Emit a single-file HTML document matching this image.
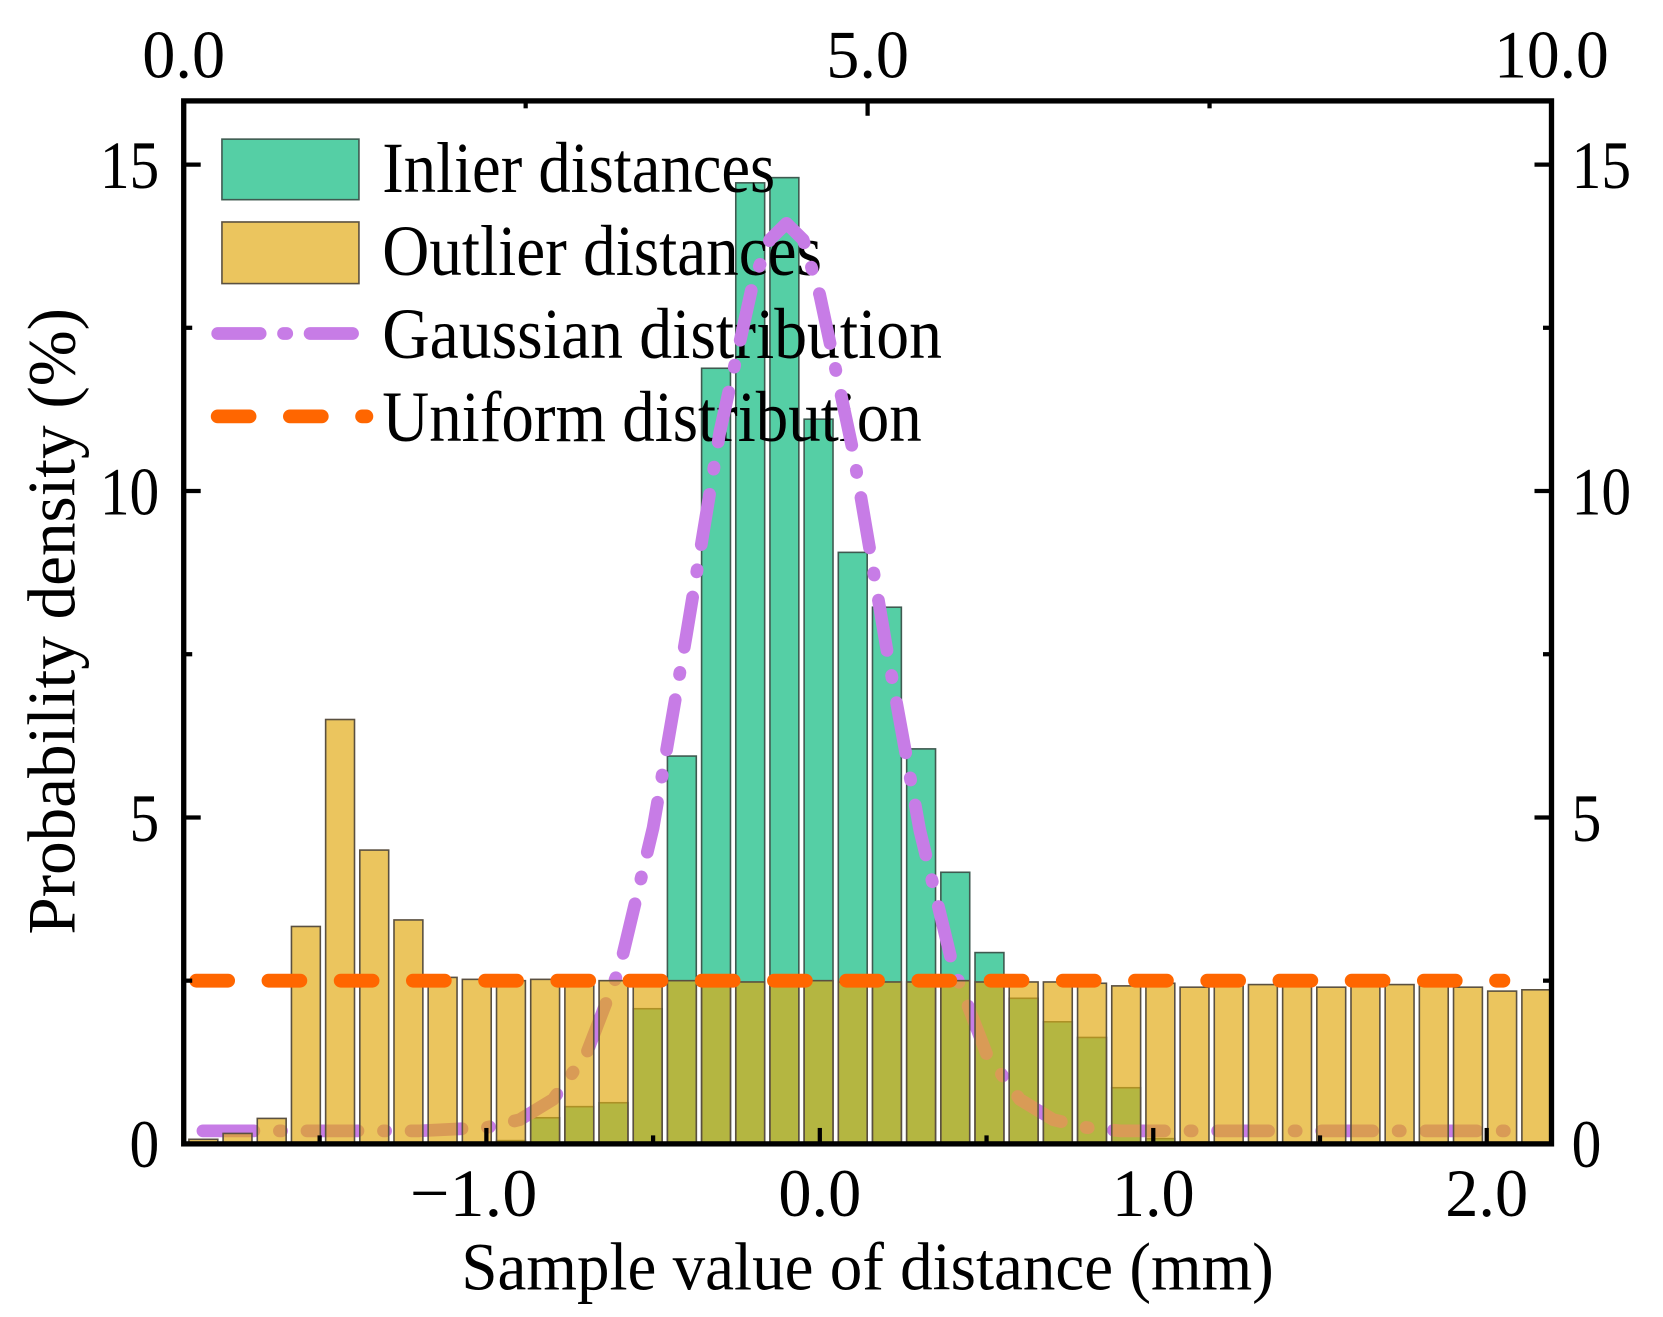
<!DOCTYPE html>
<html><head><meta charset="utf-8"><style>
html,body{margin:0;padding:0;background:#fff;}
svg{display:block;}
text{font-family:"Liberation Serif",serif;fill:#000;}
</style></head><body>
<svg id="chart" width="1663" height="1317" viewBox="0 0 1566 1240" preserveAspectRatio="none" xmlns="http://www.w3.org/2000/svg">
<g id="bars"></g>
<g id="legendText"></g>
<g id="gaussLayer"></g>
<g id="overlay"></g>
<g id="axes"></g>
</svg>
<script>
const binStart = -1.9;
const binWidth = 0.1025;
const inlierValues = [0,0,0,0,0,0,0,0,0,0.05,0.4,0.57,0.63,2.07,5.94,11.88,14.72,14.8,11.1,9.06,8.22,6.05,4.16,2.93,2.23,1.87,1.63,0.86,0.08,0.03,0.03,0,0,0,0,0,0,0,0,0];
const outlierValues = [0.07,0.16,0.39,3.33,6.5,4.5,3.43,2.55,2.52,2.5,2.52,2.48,2.5,2.48,2.5,2.5,2.48,2.46,2.5,2.48,2.48,2.48,2.5,2.48,2.48,2.48,2.46,2.42,2.46,2.4,2.42,2.44,2.44,2.4,2.42,2.44,2.42,2.4,2.34,2.36];
const gaussX = [-1.85,-1.5,-1.2,-1.0,-0.9,-0.8,-0.7,-0.6,-0.5,-0.4,-0.3,-0.2,-0.15,-0.1,-0.05,0.0,0.1,0.2,0.3,0.4,0.5,0.6,0.7,0.8,0.9,1.2,1.6,2.0,2.1];
const gaussY = [0.2,0.2,0.2,0.25,0.37,0.68,1.38,2.7,4.84,7.8,10.9,13.2,13.85,14.1,13.85,13.0,10.6,7.6,4.8,2.7,1.38,0.68,0.37,0.25,0.2,0.2,0.2,0.2,0.2];
const uniformValue = 2.5;
const uniformRange = [-1.87, 2.05];
const yTicks = [0,5,10,15];
const xTicks = [-1.0,0.0,1.0,2.0];
const xTickLabels = ["\u22121.0","0.0","1.0","2.0"];
const topTicks = [0,5,10];
const topTickLabels = ["0.0","5.0","10.0"];

const L=173,R=1461,T=95,B=1077;
const xScale = v => 772 + v*314;
const yScale = v => B - v*61.47;
const topScale = v => L + v*(R-L)/10;
const NS="http://www.w3.org/2000/svg";
function mk(parent,tag,attrs,txt){const e=document.createElementNS(NS,tag);for(const k in attrs)e.setAttribute(k,attrs[k]);if(txt!==undefined)e.textContent=txt;parent.appendChild(e);return e;}
const bars=document.getElementById('bars'),ov=document.getElementById('overlay'),ax=document.getElementById('axes'),gl=document.getElementById('gaussLayer'),lt=document.getElementById('legendText');
const GDASH='48 24 2 24';

inlierValues.forEach((v,i)=>{
  if(v<=0) return;
  const x0=xScale(binStart+i*binWidth)+2.5, x1=xScale(binStart+(i+1)*binWidth)-2.5;
  const r=mk(bars,'rect',{x:x0,y:yScale(v),width:x1-x0,height:B-yScale(v),fill:'#55cfa5',stroke:'#3f5a50','stroke-width':1.5});
  
  
});
let d='';gaussX.forEach((x,i)=>{d+=(i?'L':'M')+xScale(x)+','+yScale(gaussY[i]);});
const gp=mk(gl,'path',{d:d,fill:'none',stroke:'#c77ce6','stroke-width':12,'stroke-linecap':'round','stroke-linejoin':'round','stroke-dasharray':GDASH});


outlierValues.forEach((v,i)=>{
  const x0=xScale(binStart+i*binWidth)+2.5, x1=xScale(binStart+(i+1)*binWidth)-2.5;
  const r=mk(ov,'rect',{x:x0,y:yScale(v),width:x1-x0,height:B-yScale(v),fill:'rgb(225,169,17)','fill-opacity':0.68,stroke:'#5a5040','stroke-width':1.5});
  
  
});
const ul=mk(ov,'line',{x1:xScale(uniformRange[0]),x2:xScale(uniformRange[1]),y1:yScale(uniformValue),y2:yScale(uniformValue),stroke:'#ff6600','stroke-width':13,'stroke-linecap':'round','stroke-dasharray':'30 38'});



const fr=mk(ax,'rect',{x:L,y:T,width:R-L,height:B-T,fill:'none',stroke:'#000','stroke-width':5});


yTicks.forEach(v=>{
  const y=yScale(v);
  mk(ax,'line',{x1:L,x2:L+16,y1:y,y2:y,stroke:'#000','stroke-width':4});
  mk(ax,'line',{x1:R,x2:R-16,y1:y,y2:y,stroke:'#000','stroke-width':4});
  const s=String(v);
  const t1=mk(ax,'text',{x:150,y:y+22,'font-size':64,'text-anchor':'end',textLength:s.length*28,lengthAdjust:'spacingAndGlyphs'},s);
  
  
  const t2=mk(ax,'text',{x:1480,y:y+22,'font-size':64,'text-anchor':'start',textLength:s.length*28,lengthAdjust:'spacingAndGlyphs'},s);
  
  
});
[2.5,7.5,12.5].forEach(v=>{const y=yScale(v);
  mk(ax,'line',{x1:L,x2:L+8,y1:y,y2:y,stroke:'#000','stroke-width':4});
  mk(ax,'line',{x1:R,x2:R-8,y1:y,y2:y,stroke:'#000','stroke-width':4});});
xTicks.forEach((v,i)=>{
  const x=xScale(v);
  mk(ax,'line',{x1:x,x2:x,y1:B,y2:B-15,stroke:'#000','stroke-width':4});
  const s=xTickLabels[i];
  const t=mk(ax,'text',{x:x-(i==0?12:0),y:1145,'font-size':64,'text-anchor':'middle',textLength:s.length==4?120:78,lengthAdjust:'spacingAndGlyphs'},s);
  
  
});
[-1.5,-0.5,0.5,1.5].forEach(v=>{const x=xScale(v);mk(ax,'line',{x1:x,x2:x,y1:B,y2:B-8,stroke:'#000','stroke-width':4});});
topTicks.forEach((v,i)=>{
  const x=topScale(v);
  mk(ax,'line',{x1:x,x2:x,y1:T,y2:T+14,stroke:'#000','stroke-width':4});
  const s=topTickLabels[i];
  const t=mk(ax,'text',{x:x,y:73,'font-size':64,'text-anchor':'middle',textLength:s.length==4?108:78,lengthAdjust:'spacingAndGlyphs'},s);
  
  
});
[2.5,7.5].forEach(v=>{const x=topScale(v);mk(ax,'line',{x1:x,x2:x,y1:T,y2:T+7,stroke:'#000','stroke-width':4});});
const xt=mk(ax,'text',{x:817,y:1214,'font-size':64,'text-anchor':'middle',textLength:765,lengthAdjust:'spacingAndGlyphs'},'Sample value of distance (mm)');


const yt=mk(ax,'text',{x:0,y:0,'font-size':64,'text-anchor':'middle',transform:'translate(70,585) rotate(-90)',textLength:590,lengthAdjust:'spacingAndGlyphs'},'Probability density (%)');


const lg=mk(ax,'g',{});


mk(lg,'rect',{x:209,y:131,width:129,height:57,fill:'#55cfa5',stroke:'#3f5a50','stroke-width':1.5});
mk(lg,'rect',{x:209,y:209,width:129,height:58,fill:'#ebc55e',stroke:'#5a5040','stroke-width':1.5});
mk(lg,'line',{x1:205,x2:345,y1:314,y2:314,stroke:'#c77ce6','stroke-width':12,'stroke-linecap':'round','stroke-dasharray':'40 22 3 22'});
mk(lg,'line',{x1:205,x2:345,y1:392,y2:392,stroke:'#ff6600','stroke-width':13,'stroke-linecap':'round','stroke-dasharray':'30 38'});
const labels=[['Inlier distances',181,370],['Outlier distances',259,414],['Gaussian distribution',337,527],['Uniform distribution',415,508]];
labels.forEach(l=>{const t=mk(lt,'text',{x:360,y:l[1],'font-size':68,textLength:l[2],lengthAdjust:'spacingAndGlyphs'},l[0]);
  
  });
</script>
</body></html>
